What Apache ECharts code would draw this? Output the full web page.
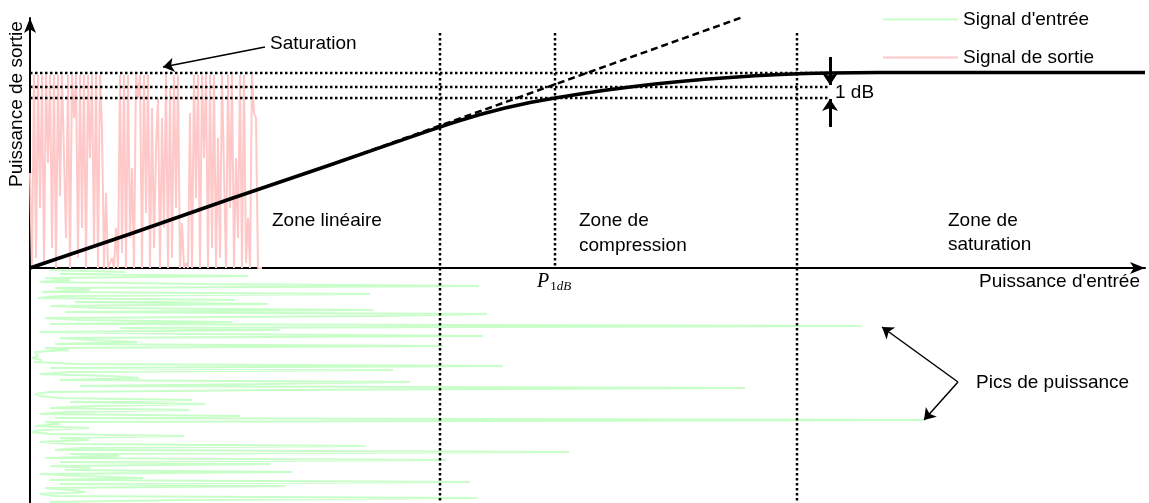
<!DOCTYPE html>
<html>
<head>
<meta charset="utf-8">
<title>Zones de fonctionnement</title>
<script src="https://cdn.jsdelivr.net/npm/echarts@6.0.0/dist/echarts.min.js"></script>
<style>
  html, body { margin: 0; padding: 0; background: #fff; }
  #chart { width: 1149px; height: 503px; }
</style>
</head>
<body>
<div id="chart"></div>
<script>
// courbe de transfert (puissance d'entrée -> puissance de sortie)
var curveInput  = [0, 100, 200, 300, 350, 400, 425, 450, 475, 500, 525, 550, 575, 600,
                   625, 650, 675, 700, 725, 750, 775, 800, 850, 900, 1115];
var curveOutput = [0, 34, 69, 103, 120.4, 137.6, 146, 153.5, 160, 165.5, 170, 174, 177.7, 181,
                   184, 186.5, 188.7, 190.6, 192.2, 193.5, 194.4, 195, 195.5, 195.5, 195.5];

// prolongement linéaire (pointillés)
var linearInput  = [300, 713];
var linearOutput = [103, 251];

// niveaux horizontaux et limites de zones
var levels = [195, 181, 170];
var zoneLimits = [410, 525, 767];

// signal d'entrée (amplitude, un échantillon par ligne)
var inputSignal = [
  20, 95, 30, 218, 15, 40, 10, 173, 449, 25,
  60, 12, 340, 30, 8, 205, 45, 238, 20, 73,
  343, 35, 457, 345, 15, 50, 202, 20, 831, 90,
  250, 10, 170, 453, 30, 60, 107, 25, 413, 15,
  39, 5, 3, 8, 2, 12, 4, 47, 473, 20,
  363, 40, 10, 80, 109, 30, 380, 232, 50, 715,
  247, 20, 5, 10, 30, 162, 40, 175, 64, 20,
  159, 35, 10, 210, 25, 893, 15, 30, 5, 59,
  12, 2, 20, 154, 30, 59, 10, 40, 335, 52,
  25, 539, 40, 89, 15, 416, 30, 240, 20, 60,
  35, 262, 10, 50, 113, 20, 440, 30, 255, 15,
  40, 55, 10, 25, 447, 153, 20
];

// signal de sortie (écrêté)
var outputSignal = [
  95, 0, 193, 10, 193, 60, 193, 5, 193, 105,
  193, 20, 193, 0, 193, 72, 193, 193, 30, 193,
  0, 193, 150, 193, 10, 193, 40, 193, 0, 193,
  110, 193, 20, 193, 0, 193, 140, 0, 75, 0,
  0, 10, 0, 40, 0, 193, 15, 193, 0, 193,
  30, 100, 0, 193, 170, 193, 0, 193, 55, 193,
  0, 160, 20, 120, 170, 0, 150, 40, 193, 0,
  180, 10, 193, 60, 193, 0, 45, 0, 5, 0,
  155, 0, 193, 70, 193, 0, 193, 110, 193, 0,
  193, 20, 193, 0, 130, 10, 193, 193, 0, 193,
  60, 193, 0, 110, 30, 193, 0, 193, 5, 50,
  0, 193, 155, 150, 0, 0, 0
];

var FONT = '"Liberation Sans", Arial, sans-serif';
var myChart = echarts.init(document.getElementById('chart'));

function label(text, x, y) {
  return {
    type: 'text', x: x, y: y, silent: true, z: 10,
    style: { text: text, fontSize: 19, fontFamily: FONT, fill: '#000',
             textAlign: 'left', textVerticalAlign: 'middle' }
  };
}

// lignes pointillées de repère
function dotted(points) {
  return {
    type: 'line', data: points, z: 2, symbol: 'none', silent: true,
    lineStyle: { color: '#000', width: 2.5, type: [2.5, 2.5] }
  };
}
var guides = [];
levels.forEach(function (v) { guides.push(dotted([[0, v], [800, v]])); });
guides.push(dotted([[zoneLimits[0], 235], [zoneLimits[0], -235]]));
guides.push(dotted([[zoneLimits[1], 235], [zoneLimits[1], 0]]));
guides.push(dotted([[zoneLimits[2], 235], [zoneLimits[2], -235]]));

var hidden = { show: false };
var option = {
  animation: false,
  grid: [
    { left: 30, right: 4, top: 18, bottom: 0 },
    { left: 30, width: 232, top: 18, bottom: 0 },
    { left: 30, right: 4, top: 269, bottom: 0 }
  ],
  xAxis: [
    { gridIndex: 0, type: 'value', min: 0, max: 1115,
      axisLine: { show: true, onZero: true, symbol: ['none', 'arrow'], symbolSize: [9, 15],
                  lineStyle: { color: '#000', width: 2 } },
      axisTick: hidden, axisLabel: hidden, splitLine: hidden },
    { gridIndex: 1, type: 'value', min: 0, max: outputSignal.length - 1, show: false },
    { gridIndex: 2, type: 'value', min: 0, max: 1115, show: false }
  ],
  yAxis: [
    { gridIndex: 0, type: 'value', min: -235, max: 250,
      axisLine: { show: true, onZero: true, symbol: ['none', 'arrow'], symbolSize: [9, 15],
                  lineStyle: { color: '#000', width: 2 } },
      axisTick: hidden, axisLabel: hidden, splitLine: hidden },
    { gridIndex: 1, type: 'value', min: -235, max: 250, show: false },
    { gridIndex: 2, type: 'value', min: -0.5, max: inputSignal.length - 0.5, inverse: true, show: false }
  ],
  legend: {
    orient: 'vertical', left: 878, top: 5,
    icon: 'rect', itemWidth: 75, itemHeight: 2, itemGap: 19,
    textStyle: { fontSize: 19, fontFamily: FONT, color: '#000' },
    data: ["Signal d'entrée", 'Signal de sortie']
  },
  series: [
    {
      name: 'Signal de sortie', type: 'line', xAxisIndex: 1, yAxisIndex: 1,
      data: outputSignal.map(function (v, i) { return [i, v]; }),
      showSymbol: false, symbol: 'none', z: 1,
      lineStyle: { color: '#ffc8c8', width: 2 }, itemStyle: { color: '#ffc8c8' }
    },
    {
      name: "Signal d'entrée", type: 'line', xAxisIndex: 2, yAxisIndex: 2,
      data: inputSignal.map(function (v, i) { return [v, i]; }),
      showSymbol: false, symbol: 'none', z: 1,
      lineStyle: { color: '#c8ffc8', width: 2 }, itemStyle: { color: '#c8ffc8' }
    }
  ].concat(guides).concat([
    {
      name: 'linéaire', type: 'line', z: 3, clip: false, symbol: 'none',
      data: linearInput.map(function (x, i) { return [x, linearOutput[i]]; }),
      lineStyle: { color: '#000', width: 2.5, type: [7, 4] }
    },
    {
      name: 'compression', type: 'line', z: 4, symbol: 'none',
      data: curveInput.map(function (x, i) { return [x, curveOutput[i]]; }),
      lineStyle: { color: '#000', width: 3.5, join: 'round' }
    },
    {
      name: 'flèches', type: 'line', data: [], z: 5, silent: true,
      markLine: {
        silent: true, symbol: ['none', 'arrow'], symbolSize: 11, label: { show: false },
        lineStyle: { color: '#000', width: 1.5, type: 'solid' },
        data: [
          [{ coord: [235, 221] }, { coord: [133, 201] }],
          [{ coord: [928, -114] }, { coord: [852, -59] }],
          [{ coord: [928, -114] }, { coord: [894, -152] }]
        ]
      }
    },
    {
      name: '1 dB', type: 'line', data: [], z: 5, silent: true,
      markLine: {
        silent: true, symbol: ['none', 'arrow'], symbolSize: 12, label: { show: false },
        lineStyle: { color: '#000', width: 3, type: 'solid' },
        data: [
          [{ coord: [800, 211] }, { coord: [800, 183] }],
          [{ coord: [800, 141] }, { coord: [800, 169] }]
        ]
      }
    }
  ]),
  graphic: [
    label('Saturation', 270, 44),
    label('1 dB', 835, 93),
    label('Zone linéaire', 272, 221),
    label('Zone de', 579, 221),
    label('compression', 579, 246),
    label('Zone de', 948, 221),
    label('saturation', 948, 245),
    label("Puissance d'entrée", 979, 282),
    label('Pics de puissance', 976, 383),
    {
      type: 'text', x: 17, y: 104, rotation: Math.PI / 2, silent: true, z: 10,
      style: { text: 'Puissance de sortie', fontSize: 19, fontFamily: FONT, fill: '#000',
               textAlign: 'center', textVerticalAlign: 'middle' }
    },
    {
      type: 'text', x: 537, y: 282, silent: true, z: 10,
      style: {
        text: '{p|P}{s|1}{t|dB}', textAlign: 'left', textVerticalAlign: 'middle',
        rich: {
          p: { fontFamily: '"Liberation Serif", serif', fontStyle: 'italic', fontSize: 20, fill: '#000' },
          s: { fontFamily: '"Liberation Serif", serif', fontSize: 13, fill: '#000', padding: [10, 0, 0, 1] },
          t: { fontFamily: '"Liberation Serif", serif', fontStyle: 'italic', fontSize: 13, fill: '#000', padding: [10, 0, 0, 0] }
        }
      }
    }
  ]
};

myChart.setOption(option);
</script>
</body>
</html>
